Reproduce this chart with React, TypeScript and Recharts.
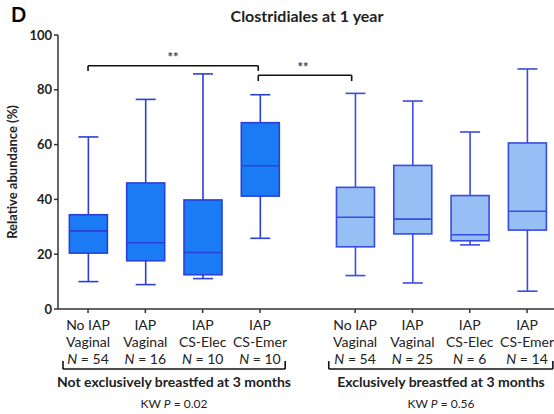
import { ComposedChart, Bar, XAxis, YAxis, ReferenceLine } from 'recharts'

// Clostridiales relative abundance (%) at 1 year
const lineOne = ['No IAP', 'IAP', 'IAP', 'IAP', 'No IAP', 'IAP', 'IAP', 'IAP']
const lineTwo = ['Vaginal', 'Vaginal', 'CS-Elec', 'CS-Emer', 'Vaginal', 'Vaginal', 'CS-Elec', 'CS-Emer']
const sampleSizes = [54, 16, 10, 10, 54, 25, 6, 14]
const positions = [1, 2, 3, 4, 5.66, 6.66, 7.66, 8.66]
const mins = [10, 8.9, 11.1, 25.8, 12.2, 9.5, 23.4, 6.5]
const q1s = [20.4, 17.6, 12.5, 41.2, 22.7, 27.4, 24.9, 28.8]
const medians = [28.5, 24.2, 20.6, 52.3, 33.5, 32.8, 27.1, 35.7]
const q3s = [34.4, 46, 39.8, 68, 44.4, 52.4, 41.4, 60.6]
const maxs = [62.8, 76.5, 85.8, 78.2, 78.7, 75.9, 64.6, 87.6]
const exclusive = [false, false, false, false, true, true, true, true]

const yTicks = [0, 20, 40, 60, 80, 100]

const data = positions.map((pos, i) => ({
  pos,
  range: [mins[i], maxs[i]],
  min: mins[i],
  q1: q1s[i],
  median: medians[i],
  q3: q3s[i],
  max: maxs[i],
  light: exclusive[i],
}))

const FONT = 'Lato, "Open Sans", sans-serif'
const INK = '#222'

function BoxShape(props: any) {
  const { x, y, width, height, payload } = props
  const { min, q1, median, q3, max, light } = payload
  const py = (v: number) => y + (height * (max - v)) / (max - min)
  const cx = x + width / 2
  const capHalf = 10
  const stroke = light ? '#3a4ae4' : '#2a40d8'
  const fill = light ? '#96bff6' : '#1a7bf4'
  return (
    <g>
      <line x1={cx} x2={cx} y1={py(max)} y2={py(q3)} stroke={stroke} strokeWidth={1.6} />
      <line x1={cx} x2={cx} y1={py(q1)} y2={py(min)} stroke={stroke} strokeWidth={1.6} />
      <line x1={cx - capHalf} x2={cx + capHalf} y1={py(max)} y2={py(max)} stroke={stroke} strokeWidth={1.6} />
      <line x1={cx - capHalf} x2={cx + capHalf} y1={py(min)} y2={py(min)} stroke={stroke} strokeWidth={1.6} />
      <rect x={x} y={py(q3)} width={width} height={py(q1) - py(q3)} fill={fill} stroke={stroke} strokeWidth={1.6} />
      <line x1={x} x2={x + width} y1={py(median)} y2={py(median)} stroke={stroke} strokeWidth={1.6} />
    </g>
  )
}

function CategoryTick(props: any) {
  const { x, y, index } = props
  return (
    <g fontFamily={FONT} fontSize={14} fill={INK} textAnchor="middle">
      <text x={x} y={y + 15}>{lineOne[index]}</text>
      <text x={x} y={y + 32}>{lineTwo[index]}</text>
      <text x={x} y={y + 49}>
        <tspan fontStyle="italic">N</tspan> = {sampleSizes[index]}
      </text>
    </g>
  )
}

const bracket = { stroke: '#111', strokeWidth: 1.6, ifOverflow: 'visible' as const }

export default function App() {
  return (
    <div style={{ position: 'absolute', left: 0, top: 0, width: 554, height: 414, background: '#fff' }}>
      <ComposedChart
        width={554}
        height={414}
        data={data}
        margin={{ top: 35, right: 0, bottom: 75, left: 0 }}
      >
        <XAxis
          dataKey="pos"
          type="number"
          domain={[0.476, 9.13]}
          ticks={positions}
          allowDataOverflow
          interval={0}
          height={30}
          stroke="#333"
          strokeWidth={1.5}
          tickSize={4}
          tick={<CategoryTick />}
        />
        <YAxis
          domain={[0, 100]}
          ticks={yTicks}
          width={58}
          stroke="#333"
          strokeWidth={1.5}
          tickSize={4}
          tick={{ fontFamily: FONT, fontSize: 13, fontWeight: 700, fill: INK }}
          label={{
            value: 'Relative abundance (%)',
            angle: -90,
            position: 'insideLeft',
            offset: 12,
            style: { textAnchor: 'middle', fontFamily: FONT, fontSize: 13, fontWeight: 700, fill: INK },
          }}
        />
        <Bar dataKey="range" barSize={38} shape={<BoxShape />} isAnimationActive={false} />

        {/* significance brackets */}
        <ReferenceLine segment={[{ x: 1, y: 86.9 }, { x: 1, y: 88.8 }]} {...bracket} />
        <ReferenceLine segment={[{ x: 1, y: 88.8 }, { x: 3.97, y: 88.8 }]} {...bracket} />
        <ReferenceLine segment={[{ x: 3.97, y: 88.8 }, { x: 3.97, y: 86.9 }]} {...bracket} />
        <ReferenceLine segment={[{ x: 3.97, y: 83.2 }, { x: 3.97, y: 85.3 }]} {...bracket} />
        <ReferenceLine segment={[{ x: 3.97, y: 85.3 }, { x: 5.6, y: 85.3 }]} {...bracket} />
        <ReferenceLine segment={[{ x: 5.6, y: 85.3 }, { x: 5.6, y: 83.2 }]} {...bracket} />

        {/* group brackets under the axis */}
        <ReferenceLine segment={[{ x: 0.563, y: -19 }, { x: 0.563, y: -21.9 }]} {...bracket} />
        <ReferenceLine segment={[{ x: 0.563, y: -21.9 }, { x: 4.44, y: -21.9 }]} {...bracket} />
        <ReferenceLine segment={[{ x: 4.44, y: -21.9 }, { x: 4.44, y: -19 }]} {...bracket} />
        <ReferenceLine segment={[{ x: 5.2, y: -19 }, { x: 5.2, y: -21.9 }]} {...bracket} />
        <ReferenceLine segment={[{ x: 5.2, y: -21.9 }, { x: 9.11, y: -21.9 }]} {...bracket} />
        <ReferenceLine segment={[{ x: 9.11, y: -21.9 }, { x: 9.11, y: -19 }]} {...bracket} />
      </ComposedChart>

      <svg width={554} height={414} style={{ position: 'absolute', left: 0, top: 0, pointerEvents: 'none' }}>
        <g fontFamily={FONT} fill={INK}>
          <text x={11} y={22} fontSize={20} fontWeight={700} fill="#000">D</text>
          <text x={307} y={22} fontSize={16} fontWeight={700} textAnchor="middle">Clostridiales at 1 year</text>
          <text x={173} y={62} fontSize={13} fontWeight={700} textAnchor="middle" fill="#444">**</text>
          <text x={303} y={72} fontSize={13} fontWeight={700} textAnchor="middle" fill="#444">**</text>
          <text x={174} y={387} fontSize={14} fontWeight={700} textAnchor="middle">Not exclusively breastfed at 3 months</text>
          <text x={441} y={387} fontSize={14} fontWeight={700} textAnchor="middle">Exclusively breastfed at 3 months</text>
          <text x={174} y={408} fontSize={12} textAnchor="middle">
            KW <tspan fontStyle="italic">P</tspan> = 0.02
          </text>
          <text x={441} y={408} fontSize={12} textAnchor="middle">
            KW <tspan fontStyle="italic">P</tspan> = 0.56
          </text>
        </g>
      </svg>
    </div>
  )
}
